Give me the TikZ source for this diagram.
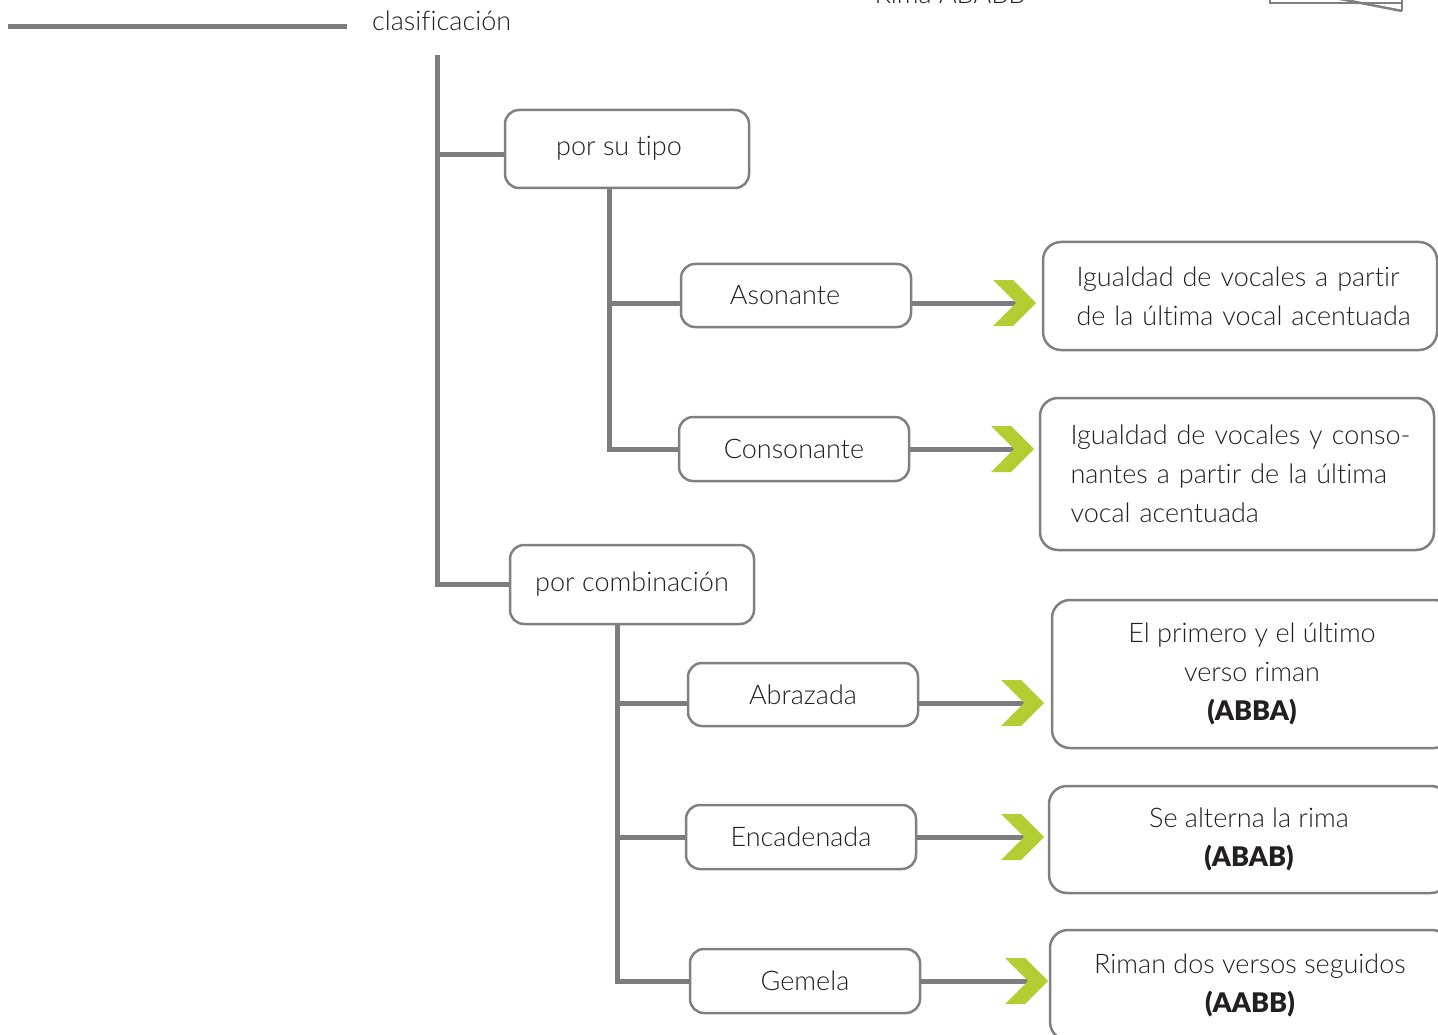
\documentclass[tikz,border=0pt]{standalone}
\usepackage{fontspec}
\setmainfont{Lato}[UprightFont={* Light},BoldFont={* Black},Ligatures=NoCommon]
\usetikzlibrary{calc}
\definecolor{conncol}{RGB}{125,125,128}
\definecolor{boxcol}{RGB}{128,128,130}
\definecolor{chevcol}{RGB}{178,206,50}
\definecolor{txtcol}{RGB}{35,31,32}
\tikzset{
  conn/.style={draw=conncol,line width=5pt},
  catbox/.style={draw=boxcol,line width=2.5pt,rounded corners=14pt,fill=white,
    text=txtcol,font=\fontsize{27}{39}\selectfont,inner sep=0pt},
  descbox/.style={draw=boxcol,line width=2.5pt,rounded corners=18pt,fill=white,
    text=txtcol,font=\fontsize{27}{39}\selectfont,inner sep=0pt},
  chev/.style={fill=chevcol},
  lbl/.style={text=txtcol,font=\fontsize{27}{39}\selectfont,inner sep=0pt}
}
\newcommand{\chevat}[1]{\fill[chev,shift={(#1)}] (-23,-23) -- (-3,-23) -- (20,0) -- (-3,23) -- (-23,23) -- (0,0) -- cycle;}
\begin{document}
\begin{tikzpicture}[x=1pt,y=-1pt]
\useasboundingbox (0,0) rectangle (1438,1035);
\clip (0,0) rectangle (1438,1035);
% top fragments
\coordinate (l0) at (8,27);
\coordinate (l1) at (347,27);
\draw[conn] (l0) -- (l1);
\node[lbl,anchor=base west] (clas) at (372,31) {clasificación};
\node[lbl,anchor=base] (rima) at (950,4) {Rima ABABB};
\draw[draw=boxcol,line width=2.5pt] (1270,-40) -- (1270,3) -- (1402,3) -- (1402,-40);
\draw[draw=boxcol,line width=2.5pt] (1402,11) -- (1330,-3);
\draw[draw=boxcol,line width=2.5pt] (1402,3) -- (1402,11);
% category boxes
\node[catbox,minimum width=244pt,minimum height=78pt] (tipo) at (627,149) {\raisebox{6pt}{\hspace*{-16pt}por su tipo}};
\node[catbox,minimum width=244pt,minimum height=79pt] (comb) at (632,584.5) {\raisebox{3pt}{por combinación}};
\node[catbox,minimum width=230pt,minimum height=63pt] (ason) at (796,295.5) {\hspace*{-22pt}Asonante};
\node[catbox,minimum width=230pt,minimum height=64pt] (cons) at (794,449) {Consonante};
\node[catbox,minimum width=230pt,minimum height=63pt] (abra) at (803,694.5) {Abrazada};
\node[catbox,minimum width=230pt,minimum height=64pt] (enca) at (801,837) {Encadenada};
\node[catbox,minimum width=230pt,minimum height=64pt] (geme) at (805,981) {Gemela};
% description boxes
\node[descbox,minimum width=394pt,minimum height=108pt,text width=327pt,align=left] (d1) at (1240,296)
  {\mbox{Igualdad de vocales a partir}\\\mbox{de la última vocal acentuada}};
\node[descbox,minimum width=394pt,minimum height=152pt,text width=333pt,align=left] (d2) at (1237,474)
  {\makebox[339pt][s]{Igualdad de vocales y conso-}\\\makebox[339pt][s]{nantes a partir de la última}\\vocal acentuada};
\node[descbox,minimum width=400pt,minimum height=148pt,align=center] (d3) at (1252,674)
  {El primero y el último\\verso riman\\\textbf{(ABBA)}};
\node[descbox,minimum width=400pt,minimum height=107pt,align=center] (d4) at (1249,839.5)
  {Se alterna la rima\\\textbf{(ABAB)}};
\node[descbox,minimum width=400pt,minimum height=110pt,align=center] (d5) at (1250,985)
  {Riman dos versos seguidos\\\textbf{(AABB)}};
% trunks
\coordinate (t0) at (437,55);
\coordinate (s1) at (609,0);
\coordinate (s2) at (617,0);
\draw[conn] (t0) |- ([yshift=-6pt]tipo.west);
\draw[conn] (t0) |- (comb.west);
\draw[conn] (tipo.south -| s1) |- (cons.west);
\draw[conn] ([yshift=-7.5pt]ason.west -| s1) -- ([yshift=-7.5pt]ason.west);
\draw[conn] (comb.south -| s2) |- (geme.west);
\draw[conn] ([yshift=-8.5pt]abra.west -| s2) -- ([yshift=-8.5pt]abra.west);
\draw[conn] (enca.west -| s2) -- (enca.west);
% arrows
\coordinate (c1) at (1016,303);
\coordinate (c2) at (1014,449);
\coordinate (c3) at (1024,703);
\coordinate (c4) at (1024,837);
\coordinate (c5) at (1028,981);
\draw[conn] ([yshift=-7.5pt]ason.east) -- (c1);
\draw[conn] (cons.east) -- (c2);
\draw[conn] ([yshift=-8.5pt]abra.east) -- (c3);
\draw[conn] (enca.east) -- (c4);
\draw[conn] (geme.east) -- (c5);
\chevat{c1}\chevat{c2}\chevat{c3}\chevat{c4}\chevat{c5}
\end{tikzpicture}
\end{document}
